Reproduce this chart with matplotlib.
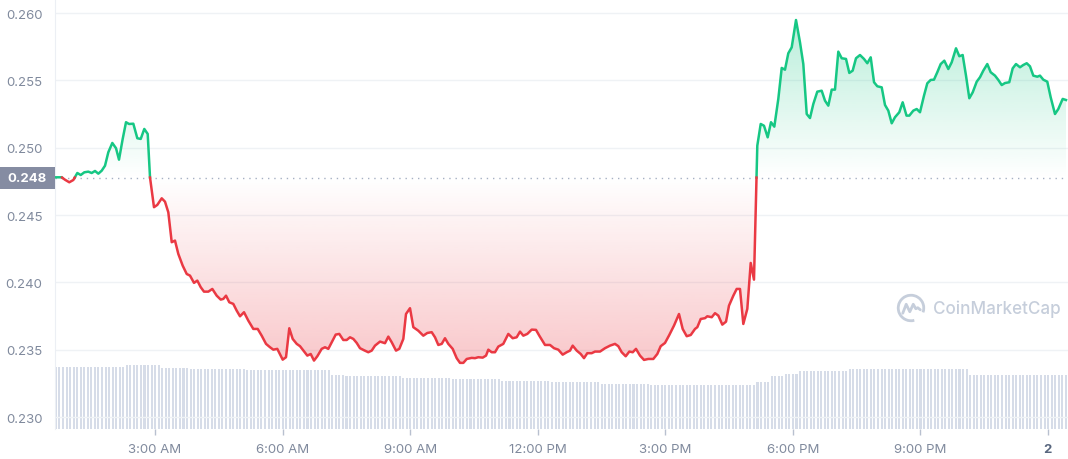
import numpy as np
import matplotlib
matplotlib.use('Agg')
import matplotlib.pyplot as plt
from matplotlib.colors import to_rgb
from matplotlib.patches import PathPatch, Rectangle, Arc
from matplotlib.transforms import blended_transform_factory

plt.rcParams['font.family'] = ['Inter', 'DejaVu Sans']

# price, hours since midnight
hours = [0.672, 0.806, 0.883, 0.984, 1.079, 1.173, 1.253, 1.337, 1.431, 1.511, 1.589, 1.667, 1.746, 1.824,
         1.902, 1.996, 2.083, 2.153, 2.240, 2.318, 2.389, 2.490, 2.584, 2.664, 2.748, 2.828, 2.882, 2.976,
         3.054, 3.158, 3.235, 3.313, 3.393, 3.470, 3.548, 3.651, 3.746, 3.823, 3.917, 3.995, 4.075, 4.152,
         4.254, 4.348, 4.451, 4.545, 4.606, 4.670, 4.747, 4.841, 4.921, 4.999, 5.093, 5.194, 5.312, 5.415,
         5.509, 5.611, 5.705, 5.782, 5.876, 6.003, 6.081, 6.158, 6.238, 6.333, 6.410, 6.474, 6.582, 6.662,
         6.739, 6.817, 6.920, 6.998, 7.076, 7.156, 7.250, 7.334, 7.428, 7.508, 7.586, 7.664, 7.744, 7.821,
         7.915, 8.016, 8.096, 8.174, 8.292, 8.409, 8.487, 8.567, 8.668, 8.745, 8.840, 8.903, 8.997, 9.075,
         9.192, 9.310, 9.404, 9.507, 9.585, 9.663, 9.743, 9.820, 9.898, 10.001, 10.095, 10.173, 10.251,
         10.331, 10.448, 10.526, 10.603, 10.707, 10.785, 10.839, 10.918, 10.996, 11.074, 11.191, 11.309,
         11.412, 11.506, 11.584, 11.662, 11.756, 11.859, 11.960, 12.038, 12.172, 12.290, 12.384, 12.485,
         12.588, 12.682, 12.760, 12.823, 12.918, 13.012, 13.089, 13.167, 13.270, 13.348, 13.466, 13.583,
         13.701, 13.818, 13.896, 13.976, 14.070, 14.155, 14.235, 14.312, 14.406, 14.500, 14.601, 14.719,
         14.813, 14.893, 14.994, 15.095, 15.206, 15.323, 15.410, 15.505, 15.599, 15.700, 15.754, 15.834,
         15.935, 15.989, 16.093, 16.170, 16.248, 16.342, 16.429, 16.499, 16.601, 16.680, 16.758, 16.836,
         16.930, 17.010, 17.087, 17.165, 17.245, 17.322, 17.409, 17.487, 17.565, 17.659, 17.739, 17.816,
         17.894, 17.974, 18.075, 18.169, 18.247, 18.327, 18.404, 18.482, 18.576, 18.679, 18.757, 18.835,
         18.915, 18.992, 19.070, 19.150, 19.251, 19.329, 19.408, 19.486, 19.580, 19.674, 19.752, 19.832,
         19.910, 19.987, 20.091, 20.168, 20.246, 20.326, 20.403, 20.504, 20.584, 20.674, 20.740, 20.834,
         20.914, 20.991, 21.085, 21.163, 21.243, 21.320, 21.398, 21.478, 21.563, 21.657, 21.737, 21.838,
         21.916, 21.995, 22.073, 22.151, 22.231, 22.325, 22.402, 22.480, 22.574, 22.654, 22.755, 22.833,
         22.913, 22.990, 23.091, 23.171, 23.249, 23.343, 23.421, 23.501, 23.578, 23.656, 23.750, 23.813,
         23.891, 23.985, 24.065, 24.166, 24.244, 24.347, 24.425]

prices = [0.24780, 0.24780, 0.24762, 0.24743, 0.24760, 0.24812, 0.24797, 0.24817, 0.24822, 0.24812, 0.24827,
          0.24807, 0.24829, 0.24866, 0.24966, 0.25035, 0.24996, 0.24911, 0.25065, 0.25189, 0.25176, 0.25178,
          0.25070, 0.25065, 0.25139, 0.25102, 0.24780, 0.24558, 0.24575, 0.24624, 0.24599, 0.24520, 0.24298,
          0.24310, 0.24211, 0.24124, 0.24062, 0.24050, 0.23996, 0.24013, 0.23964, 0.23931, 0.23931, 0.23951,
          0.23901, 0.23872, 0.23877, 0.23901, 0.23852, 0.23840, 0.23790, 0.23748, 0.23778, 0.23716, 0.23654,
          0.23654, 0.23604, 0.23543, 0.23518, 0.23500, 0.23506, 0.23426, 0.23444, 0.23659, 0.23580, 0.23543,
          0.23526, 0.23500, 0.23456, 0.23468, 0.23419, 0.23451, 0.23506, 0.23518, 0.23506, 0.23555, 0.23612,
          0.23617, 0.23572, 0.23572, 0.23592, 0.23580, 0.23550, 0.23511, 0.23496, 0.23481, 0.23493, 0.23530,
          0.23560, 0.23548, 0.23597, 0.23555, 0.23493, 0.23506, 0.23580, 0.23765, 0.23808, 0.23667, 0.23641,
          0.23604, 0.23624, 0.23630, 0.23592, 0.23535, 0.23543, 0.23585, 0.23543, 0.23506, 0.23437, 0.23402,
          0.23402, 0.23431, 0.23439, 0.23437, 0.23444, 0.23441, 0.23456, 0.23500, 0.23481, 0.23481, 0.23523,
          0.23543, 0.23617, 0.23585, 0.23592, 0.23634, 0.23604, 0.23617, 0.23649, 0.23647, 0.23604, 0.23535,
          0.23535, 0.23511, 0.23500, 0.23463, 0.23481, 0.23493, 0.23530, 0.23493, 0.23468, 0.23437, 0.23474,
          0.23474, 0.23486, 0.23486, 0.23511, 0.23530, 0.23543, 0.23526, 0.23481, 0.23451, 0.23486, 0.23481,
          0.23506, 0.23456, 0.23424, 0.23431, 0.23431, 0.23468, 0.23526, 0.23550, 0.23609, 0.23679, 0.23765,
          0.23654, 0.23600, 0.23609, 0.23654, 0.23667, 0.23728, 0.23734, 0.23748, 0.23741, 0.23771, 0.23753,
          0.23686, 0.23708, 0.23827, 0.23901, 0.23951, 0.23951, 0.23691, 0.23803, 0.24144, 0.24020, 0.25015,
          0.25176, 0.25163, 0.25077, 0.25189, 0.25156, 0.25362, 0.25592, 0.25579, 0.25701, 0.25745, 0.25948,
          0.25782, 0.25621, 0.25250, 0.25220, 0.25324, 0.25416, 0.25423, 0.25349, 0.25312, 0.25431, 0.25431,
          0.25713, 0.25664, 0.25659, 0.25555, 0.25572, 0.25664, 0.25688, 0.25659, 0.25627, 0.25671, 0.25486,
          0.25456, 0.25448, 0.25317, 0.25275, 0.25181, 0.25226, 0.25263, 0.25337, 0.25238, 0.25238, 0.25275,
          0.25287, 0.25263, 0.25386, 0.25478, 0.25503, 0.25505, 0.25560, 0.25621, 0.25646, 0.25584, 0.25634,
          0.25738, 0.25679, 0.25688, 0.25535, 0.25367, 0.25411, 0.25490, 0.25523, 0.25572, 0.25621, 0.25560,
          0.25535, 0.25503, 0.25465, 0.25480, 0.25486, 0.25589, 0.25621, 0.25597, 0.25614, 0.25627, 0.25604,
          0.25535, 0.25527, 0.25535, 0.25505, 0.25490, 0.25374, 0.25250, 0.25287, 0.25362, 0.25354]

open_price = 0.24778

# volume bars (5 min), relative units, given as level / number of bars
volume_levels = [623, 637, 613, 597, 594, 540, 527, 513, 500, 485, 470, 455, 445, 470, 530, 555, 580, 600, 545]
volume_counts = [20, 10, 8, 16, 24, 4, 16, 14, 14, 14, 14, 14, 30, 4, 4, 4, 14, 34, 28]
volume_start = 0.67

ytick_values = [0.230, 0.235, 0.240, 0.245, 0.250, 0.255, 0.260]
xtick_hours = [3, 6, 9, 12, 15, 18, 21, 24]
xtick_labels = ['3:00 AM', '6:00 AM', '9:00 AM', '12:00 PM', '3:00 PM', '6:00 PM', '9:00 PM', '2']

assert len(hours) == len(prices), (len(hours), len(prices))

GREEN = '#16c784'
RED = '#ea3943'
LABEL = '#808a9d'
MARK = '#c6cedb'


def split_at_base(t, p, base):
    tt, pp = [t[0]], [p[0]]
    for i in range(1, len(t)):
        a, b = p[i - 1] - base, p[i] - base
        if a * b < 0:
            tt.append(t[i - 1] + (t[i] - t[i - 1]) * a / (a - b))
            pp.append(base)
        tt.append(t[i])
        pp.append(p[i])
    return np.array(tt), np.array(pp)


def gradient_fill(ax, x, y, base, far, color, alpha_far):
    poly = ax.fill_between(x, y, base, facecolor='none', edgecolor='none')
    patch = PathPatch(poly.get_paths()[0], transform=ax.transData, facecolor='none', edgecolor='none')
    ax.add_patch(patch)
    img = np.zeros((256, 1, 4))
    img[..., :3] = to_rgb(color)
    alphas = np.linspace(0, alpha_far, 256)
    img[:, 0, 3] = alphas if far > base else alphas[::-1]
    lo, hi = min(base, far), max(base, far)
    im = ax.imshow(img, extent=[x.min(), x.max(), lo, hi], origin='lower', aspect='auto',
                   interpolation='bilinear', zorder=2)
    im.set_clip_path(patch)


fig = plt.figure(figsize=(10.68, 4.60), dpi=100)
fig.patch.set_facecolor('white')
ax = fig.add_axes([55 / 1068, 30 / 460, 1013 / 1068, 430 / 460])
ax_vol = ax.twinx()
ax.set_zorder(2)
ax.patch.set_visible(False)
ax_vol.set_zorder(1)

# volume
vol = np.repeat(volume_levels, volume_counts)
vol_x = volume_start + np.arange(len(vol)) / 12
ax_vol.bar(vol_x, vol, width=0.048, color='#d6dce8', linewidth=0)
ax_vol.set_ylim(0, 4300)
ax_vol.axis('off')

t, p = split_at_base(np.array(hours), np.array(prices), open_price)
gradient_fill(ax, t, np.maximum(p, open_price), open_price, p.max(), GREEN, 0.3)
gradient_fill(ax, t, np.minimum(p, open_price), open_price, p.min(), RED, 0.28)

up = np.where(p >= open_price, p, np.nan)
down = np.where(p <= open_price, p, np.nan)
ax.plot(t, up, color=GREEN, lw=1.8, solid_joinstyle='round', zorder=4)
ax.plot(t, down, color=RED, lw=1.8, solid_joinstyle='round', zorder=4)

ax.axhline(open_price, color='#a6b0c3', lw=1, ls=(0, (1, 3.5)), zorder=3)

ax.set_xlim(0.648, 24.472)
ax.set_ylim(0.22911, 0.26104)

ax.set_yticks(ytick_values)
ax.set_yticklabels([f'{v:.3f}' for v in ytick_values])
ax.grid(axis='y', color='#eff2f5', lw=1)
ax.set_axisbelow(True)
ax.tick_params(axis='y', length=0, pad=9, labelsize=9.5, labelcolor=LABEL)

ax.set_xticks(xtick_hours)
ax.set_xticklabels(xtick_labels)
ax.tick_params(axis='x', length=4, width=1, color='#b8c0cf', pad=6, labelsize=9.5, labelcolor=LABEL)
last = ax.get_xticklabels()[-1]
last.set_fontweight('bold')
last.set_color('#58667e')

for side in ['top', 'right', 'bottom']:
    ax.spines[side].set_visible(False)
ax.spines['left'].set_color('#eceff4')

# open price tag on the y axis
tr = blended_transform_factory(fig.transFigure, ax.transData)
tag_h = 0.00082
ax.add_patch(Rectangle((0, open_price - tag_h), 55 / 1068, 2 * tag_h, transform=tr,
                       facecolor='#858ca2', edgecolor='none', clip_on=False, zorder=5))
ax.text(27.5 / 1068, open_price, '0.248', transform=tr, ha='center', va='center',
        color='white', fontsize=9.5, fontweight='bold', zorder=6, clip_on=False)

# watermark
fig.text(933 / 1068, 1 - 309 / 460, 'CoinMarketCap', fontsize=12.3, fontweight='medium',
         color=MARK, va='center', ha='left')
logo = fig.add_axes([(911 - 15) / 1068, (460 - 309 - 15) / 460, 30 / 1068, 30 / 460])
logo.set_xlim(-1, 1)
logo.set_ylim(-1, 1)
logo.set_aspect('equal')
logo.axis('off')
logo.add_patch(Arc((0, 0), 1.7, 1.7, theta1=-20, theta2=285, color=MARK, lw=2))
logo.plot([-0.55, -0.32, -0.08, 0.15, 0.32, 0.45, 0.62],
          [-0.35, 0.25, -0.25, 0.25, -0.05, 0.02, -0.12], color=MARK, lw=2,
          solid_joinstyle='round', solid_capstyle='round')

fig.savefig('out.png', dpi=100, facecolor='white')
